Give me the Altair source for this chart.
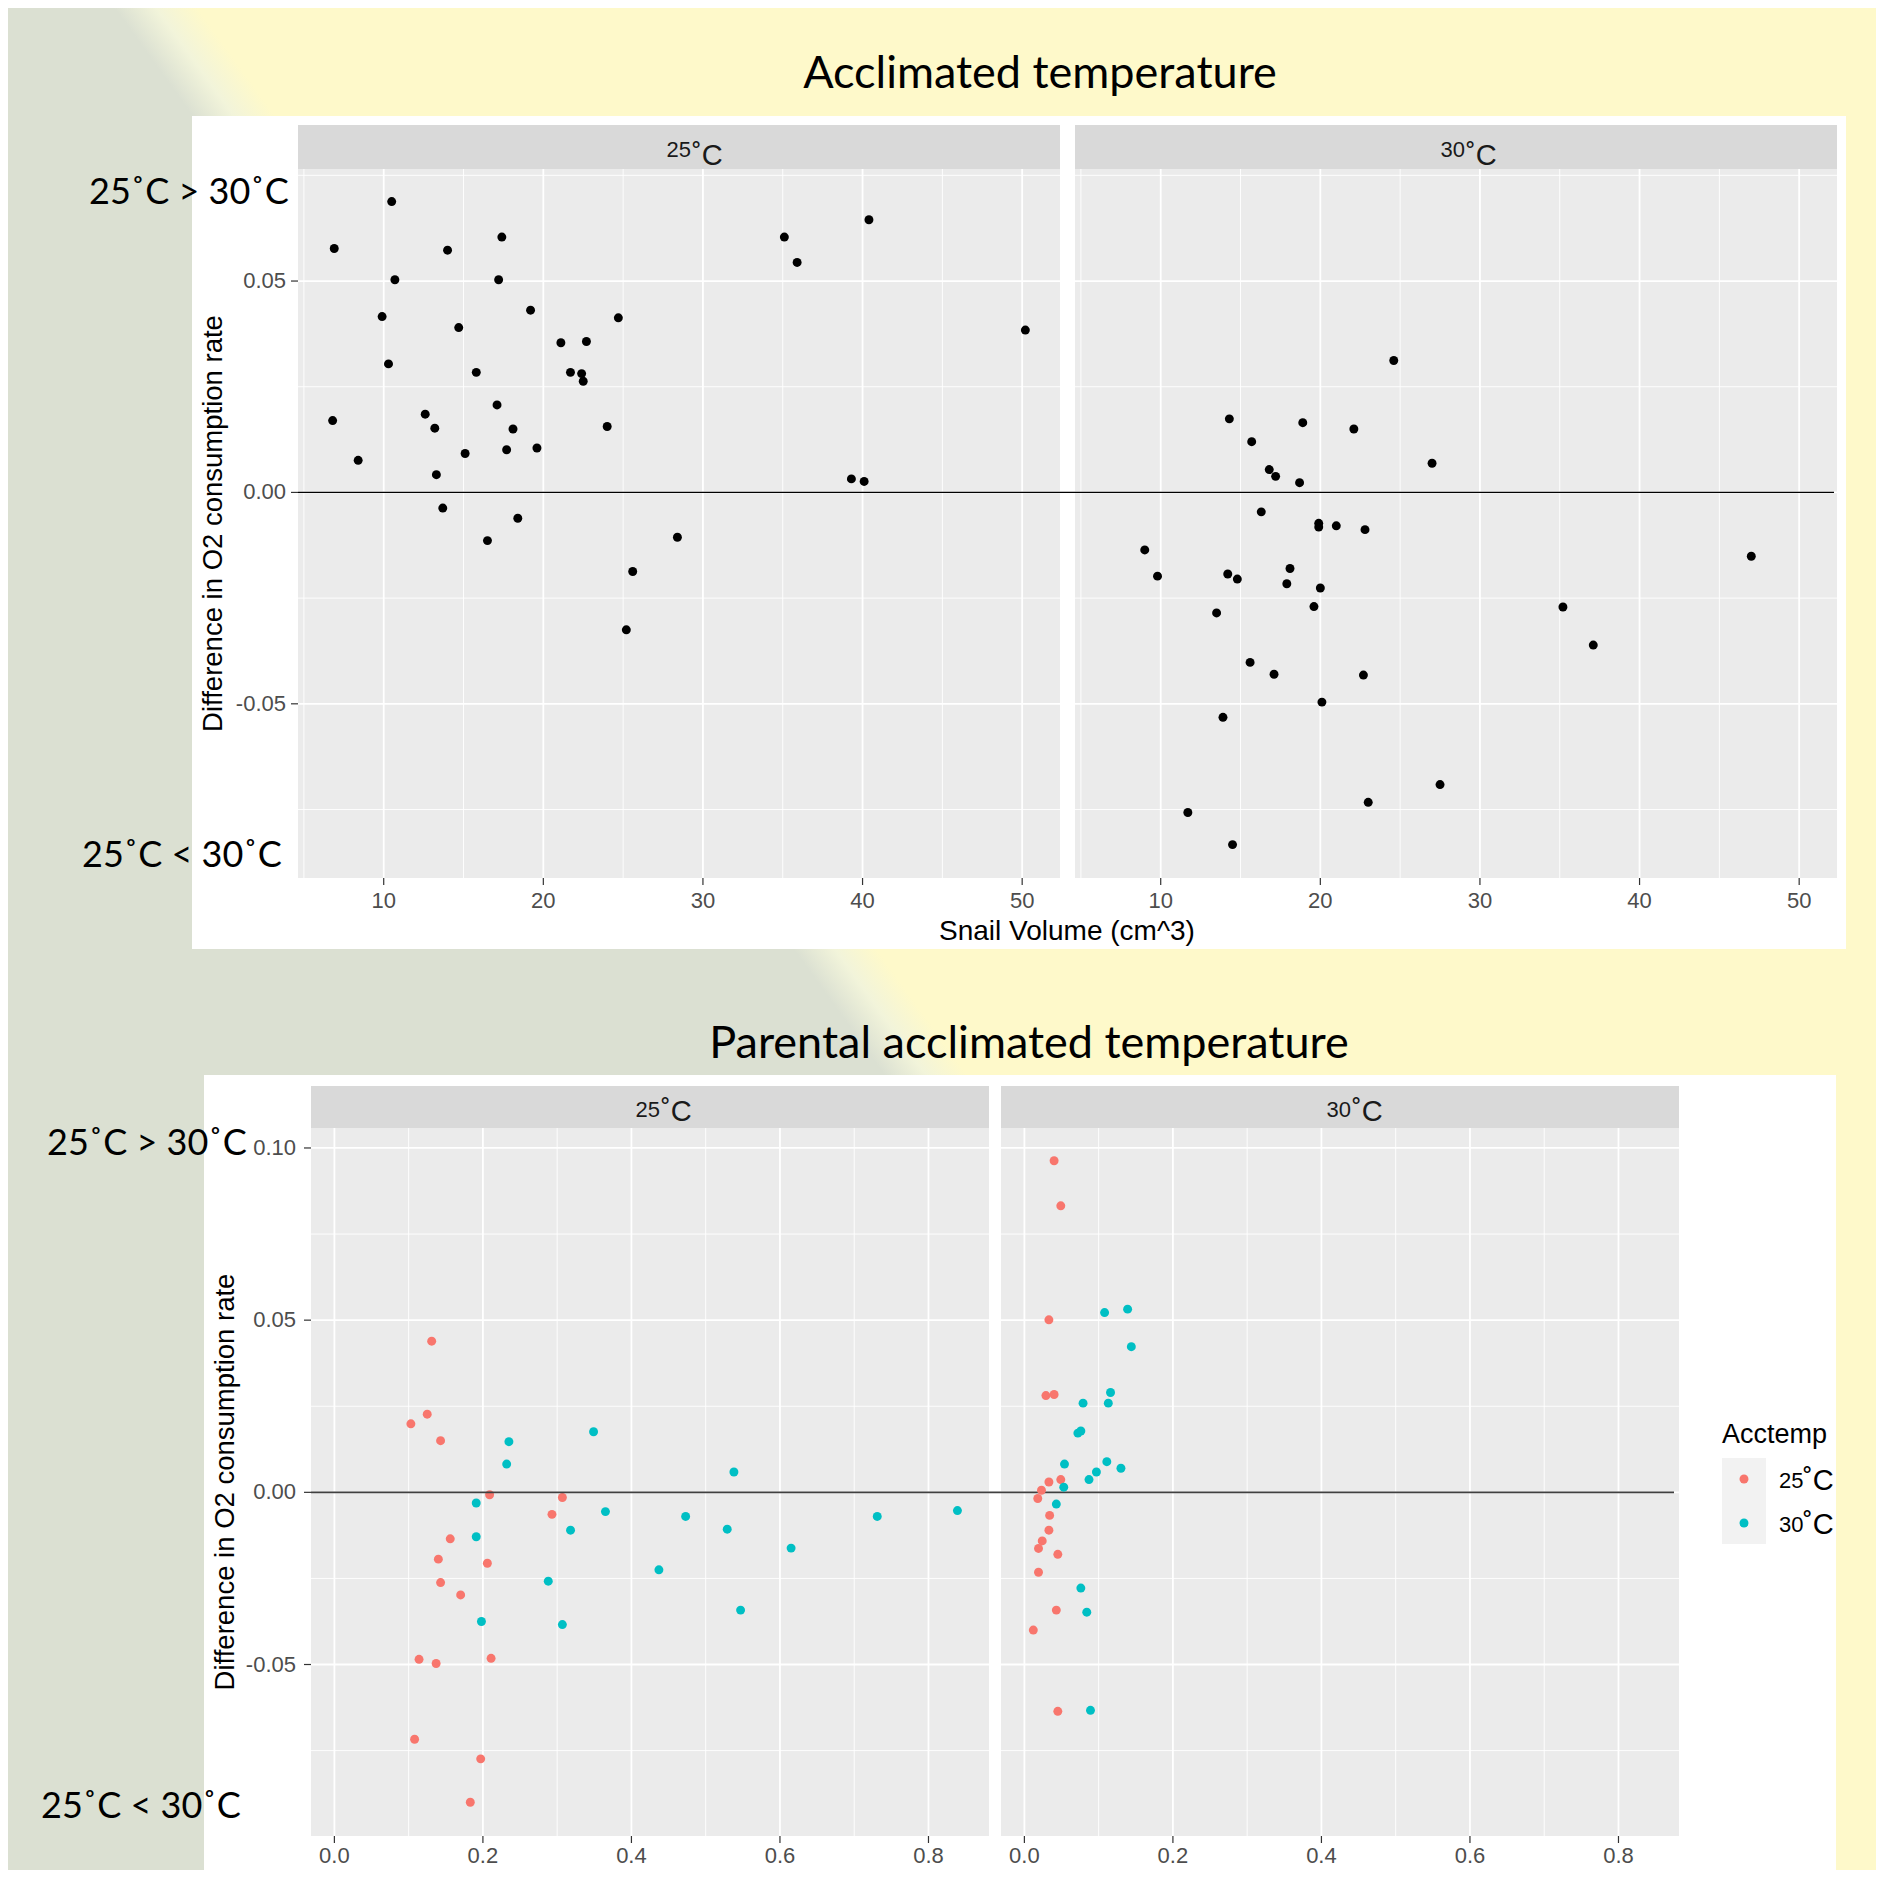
import altair as alt
import pandas as pd

# ---------------- data ----------------
# Top chart: Acclimated temperature facets (Snail volume vs difference in O2 consumption rate)
top25_vol = [6.9, 10.5, 6.8, 8.4, 9.9, 10.7, 10.3, 14.0, 14.7, 12.6, 13.2, 13.3, 13.7, 15.1, 15.8,
             17.2, 17.4, 17.1, 18.1, 17.7, 16.5, 18.4, 19.2, 19.6, 21.1, 21.7, 22.4, 22.5, 22.7,
             24.0, 24.7, 25.6, 25.2, 28.4, 35.1, 35.9, 40.4, 39.3, 40.1, 50.2]
top25_diff = [0.0577, 0.0688, 0.0170, 0.0076, 0.0416, 0.0503, 0.0304, 0.0573, 0.0390, 0.0185,
              0.0152, 0.0042, -0.0037, 0.0092, 0.0284, 0.0503, 0.0604, 0.0207, 0.0150, 0.0101,
              -0.0114, -0.0061, 0.0431, 0.0105, 0.0354, 0.0284, 0.0281, 0.0263, 0.0357, 0.0156,
              0.0413, -0.0187, -0.0325, -0.0106, 0.0604, 0.0544, 0.0645, 0.0032, 0.0026, 0.0384]
top30_vol = [24.6, 14.3, 18.9, 22.1, 15.7, 27.0, 16.8, 17.2, 18.7, 16.3, 19.9, 19.9, 21.0, 22.8,
             9.0, 9.8, 14.2, 14.8, 18.1, 17.9, 20.0, 19.6, 13.5, 15.6, 17.1, 22.7, 20.1, 13.9,
             35.2, 37.1, 47.0, 27.5, 23.0, 11.7, 14.5]
top30_diff = [0.0312, 0.0174, 0.0165, 0.0150, 0.0120, 0.0069, 0.0054, 0.0038, 0.0023, -0.0046,
              -0.0073, -0.0082, -0.0079, -0.0088, -0.0136, -0.0198, -0.0193, -0.0205, -0.0180,
              -0.0216, -0.0226, -0.0270, -0.0285, -0.0402, -0.0430, -0.0432, -0.0496, -0.0532,
              -0.0271, -0.0361, -0.0151, -0.0691, -0.0733, -0.0757, -0.0833]

# Bottom chart: Parental acclimated temperature facets, coloured by Acctemp
bl25_vol = [0.131, 0.125, 0.103, 0.143, 0.209, 0.307, 0.293, 0.156, 0.140, 0.206, 0.143, 0.170,
            0.114, 0.137, 0.211, 0.108, 0.197, 0.183]
bl25_diff = [0.0439, 0.0227, 0.0199, 0.0150, -0.0007, -0.0015, -0.0064, -0.0135, -0.0194, -0.0206,
             -0.0262, -0.0298, -0.0485, -0.0497, -0.0482, -0.0717, -0.0774, -0.0900]
bl30_vol = [0.235, 0.232, 0.349, 0.538, 0.191, 0.365, 0.473, 0.318, 0.529, 0.191, 0.615, 0.437,
            0.288, 0.198, 0.307, 0.547, 0.731, 0.839]
bl30_diff = [0.0147, 0.0082, 0.0176, 0.0059, -0.0031, -0.0056, -0.0070, -0.0110, -0.0107, -0.0129,
             -0.0162, -0.0225, -0.0258, -0.0375, -0.0384, -0.0342, -0.0070, -0.0053]
br25_vol = [0.040, 0.049, 0.033, 0.029, 0.040, 0.049, 0.033, 0.023, 0.018, 0.034, 0.033, 0.024,
            0.019, 0.045, 0.019, 0.043, 0.012, 0.045]
br25_diff = [0.0963, 0.0832, 0.0501, 0.0281, 0.0284, 0.0037, 0.0030, 0.0006, -0.0018, -0.0067,
             -0.0110, -0.0141, -0.0163, -0.0180, -0.0232, -0.0342, -0.0400, -0.0636]
br30_vol = [0.108, 0.139, 0.144, 0.116, 0.079, 0.113, 0.076, 0.072, 0.054, 0.111, 0.130, 0.097,
            0.087, 0.053, 0.043, 0.076, 0.084, 0.089]
br30_diff = [0.0522, 0.0532, 0.0423, 0.0290, 0.0259, 0.0259, 0.0178, 0.0172, 0.0082, 0.0089,
             0.0070, 0.0059, 0.0037, 0.0015, -0.0034, -0.0278, -0.0348, -0.0633]

acctemp_levels = ["25˚C", "30˚C"]
acctemp_colors = ["#F8766D", "#00BFC4"]

top_x_ticks = [10, 20, 30, 40, 50]
top_x_labels = ["10", "20", "30", "40", "50"]
top_x_minor = [5, 15, 25, 35, 45]
top_y_ticks = [-0.05, 0.0, 0.05]
top_y_labels = ["-0.05", "0.00", "0.05"]
top_y_minor = [-0.075, -0.025, 0.025, 0.075]
bot_x_ticks = [0.0, 0.2, 0.4, 0.6, 0.8]
bot_x_labels = ["0.0", "0.2", "0.4", "0.6", "0.8"]
bot_x_minor = [0.1, 0.3, 0.5, 0.7]
bot_y_ticks = [-0.05, 0.0, 0.05, 0.10]
bot_y_labels = ["-0.05", "0.00", "0.05", "0.10"]
bot_y_minor = [-0.075, -0.025, 0.025, 0.075]
top_x_domain = [4.63, 52.37]
top_y_domain = [-0.0912, 0.0765]
bot_x_domain = [-0.0315, 0.8815]
bot_y_domain = [-0.0998, 0.1058]

# ---------------- styling ----------------
YELLOW = "#FEF9CA"
GREY = "#DBE0D2"
GG_FONT = "Liberation Sans"
SLIDE_FONT = "Lato"
TOP_W, TOP_H = 762, 709
BOT_W, BOT_H = 678, 708
PT_SIZE = 80
TICK_FS = 22

one = pd.DataFrame({"k": [0]})


def vrect(x, x2, y, y2, fill):
    return alt.Chart(one).mark_rect(fill=fill).encode(
        x=alt.value(x), x2=alt.value(x2), y=alt.value(y), y2=alt.value(y2))


def vtext(txt, x, y, size, font, color="black", align="left", baseline="alphabetic", angle=0):
    kw = dict(text=txt, fontSize=size, font=font, color=color, align=align, baseline=baseline)
    if angle:
        kw["angle"] = angle
    return alt.Chart(one).mark_text(**kw).encode(x=alt.value(x), y=alt.value(y))


def hline(ydom, x0, x1, color, width):
    ys = alt.Scale(domain=ydom, nice=False, zero=False)
    return alt.Chart(pd.DataFrame({"z": [0.0]})).mark_rule(color=color, strokeWidth=width).encode(
        y=alt.Y("z:Q", scale=ys, axis=None), x=alt.value(x0), x2=alt.value(x1))


def panel_layers(df, w, h, xdom, ydom, xt, xl, xm, yt, yl, ym, show_y, strip_h, colored, xlab_y, ylab_x):
    xs = alt.Scale(domain=xdom, nice=False, zero=False)
    ys = alt.Scale(domain=ydom, nice=False, zero=False)
    layers = [vrect(0, w, 0, h, "#EBEBEB"), vrect(0, w, -strip_h, 0, "#D9D9D9")]
    for vals, sw in ((xm, 0.9), (xt, 1.8)):
        layers.append(alt.Chart(pd.DataFrame({"v": vals})).mark_rule(color="white", strokeWidth=sw).encode(
            x=alt.X("v:Q", scale=xs, axis=None), y=alt.value(0), y2=alt.value(h)))
    for vals, sw in ((ym, 0.9), (yt, 1.8)):
        layers.append(alt.Chart(pd.DataFrame({"v": vals})).mark_rule(color="white", strokeWidth=sw).encode(
            y=alt.Y("v:Q", scale=ys, axis=None), x=alt.value(0), x2=alt.value(w)))
    # x axis ticks and labels
    xdf = pd.DataFrame({"v": xt, "t": xl})
    layers.append(alt.Chart(xdf).mark_rule(color="#333333", strokeWidth=1.2).encode(
        x=alt.X("v:Q", scale=xs, axis=None), y=alt.value(h), y2=alt.value(h + 7)))
    layers.append(alt.Chart(xdf).mark_text(font=GG_FONT, fontSize=TICK_FS, color="#4D4D4D",
                                           align="center", baseline="middle").encode(
        x=alt.X("v:Q", scale=xs, axis=None), y=alt.value(xlab_y), text="t:N"))
    if show_y:
        ydf = pd.DataFrame({"v": yt, "t": yl})
        layers.append(alt.Chart(ydf).mark_rule(color="#333333", strokeWidth=1.2).encode(
            y=alt.Y("v:Q", scale=ys, axis=None), x=alt.value(-7), x2=alt.value(0)))
        layers.append(alt.Chart(ydf).mark_text(font=GG_FONT, fontSize=TICK_FS, color="#4D4D4D",
                                               align="right", baseline="middle").encode(
            y=alt.Y("v:Q", scale=ys, axis=None), x=alt.value(ylab_x), text="t:N"))
    if colored:
        pts = alt.Chart(df).mark_circle(size=PT_SIZE, opacity=1).encode(
            x=alt.X("vol:Q", scale=xs, axis=None), y=alt.Y("diff:Q", scale=ys, axis=None),
            color=alt.Color("acctemp:N", scale=alt.Scale(domain=acctemp_levels, range=acctemp_colors),
                            legend=None))
    else:
        pts = alt.Chart(df).mark_circle(size=PT_SIZE, opacity=1, color="black").encode(
            x=alt.X("vol:Q", scale=xs, axis=None), y=alt.Y("diff:Q", scale=ys, axis=None))
    return layers, pts


def strip_label(num, right_x, num_base, c_base):
    return [vtext(num, right_x, num_base, 22, GG_FONT, color="#1A1A1A", align="right"),
            vtext("˚C", right_x + 1, c_base, 29, GG_FONT, color="#1A1A1A", align="left")]


# ---------------- data frames ----------------
df_tl = pd.DataFrame({"vol": top25_vol, "diff": top25_diff})
df_tr = pd.DataFrame({"vol": top30_vol, "diff": top30_diff})
df_bl = pd.DataFrame({"vol": bl25_vol + bl30_vol, "diff": bl25_diff + bl30_diff,
                      "acctemp": [acctemp_levels[0]] * len(bl25_vol) + [acctemp_levels[1]] * len(bl30_vol)})
df_br = pd.DataFrame({"vol": br25_vol + br30_vol, "diff": br25_diff + br30_diff,
                      "acctemp": [acctemp_levels[0]] * len(br25_vol) + [acctemp_levels[1]] * len(br30_vol)})

# ---------------- slide background (drawn in the first panel) ----------------
bg_gradient = alt.LinearGradient(
    gradient="linear", x1=-0.129, y1=0.567, x2=0.683, y2=-0.017,
    stops=[alt.GradientStop(color=GREY, offset=0), alt.GradientStop(color=GREY, offset=0.482),
           alt.GradientStop(color="#F2F4DA", offset=0.5), alt.GradientStop(color=YELLOW, offset=0.518),
           alt.GradientStop(color=YELLOW, offset=1)])

# canvas kept to 1868 x 1862 so that the page never has to shrink or scroll it
deco = [
    alt.Chart(one).mark_rect(fill=bg_gradient).encode(
        x=alt.value(-290), x2=alt.value(1578), y=alt.value(-161), y2=alt.value(1701)),
    vrect(-106, 1548, -53, 780, "white"),
    vrect(-94, 1538, 906, 1701, "white"),
    vtext("Acclimated temperature", 742, -95, 45, SLIDE_FONT, align="center", baseline="middle"),
    vtext("Parental acclimated temperature", 731, 875, 45, SLIDE_FONT, align="center", baseline="middle"),
    vtext("25˚C > 30˚C", -209, 35, 36, SLIDE_FONT),
    vtext("25˚C < 30˚C", -216, 698, 36, SLIDE_FONT),
    vtext("25˚C > 30˚C", -251, 986, 36, SLIDE_FONT),
    vtext("25˚C < 30˚C", -257, 1649, 36, SLIDE_FONT),
    vtext("Snail Volume (cm^3)", 769, 763, 28, GG_FONT, align="center", baseline="middle"),
]

# ---------------- panels ----------------
tl_layers, tl_pts = panel_layers(df_tl, TOP_W, TOP_H, top_x_domain, top_y_domain, top_x_ticks, top_x_labels,
                                 top_x_minor, top_y_ticks, top_y_labels, top_y_minor, True, 44, False,
                                 TOP_H + 23, -12)
tl = alt.layer(*deco, *tl_layers, *strip_label("25", 393, -12, -4), tl_pts,
               vtext("Difference in O2 consumption rate", -84, TOP_H / 2, 27.5, GG_FONT,
                     align="center", baseline="middle", angle=270)
               ).properties(width=TOP_W, height=TOP_H)

tr_layers, tr_pts = panel_layers(df_tr, TOP_W, TOP_H, top_x_domain, top_y_domain, top_x_ticks, top_x_labels,
                                 top_x_minor, top_y_ticks, top_y_labels, top_y_minor, False, 44, False,
                                 TOP_H + 23, -12)
tr = alt.layer(*tr_layers, *strip_label("30", 390, -12, -4),
               hline(top_y_domain, -777, 759, "black", 1.2), tr_pts
               ).properties(width=TOP_W, height=TOP_H)

bl_layers, bl_pts = panel_layers(df_bl, BOT_W, BOT_H, bot_x_domain, bot_y_domain, bot_x_ticks, bot_x_labels,
                                 bot_x_minor, bot_y_ticks, bot_y_labels, bot_y_minor, True, 42, True,
                                 BOT_H + 20, -15)
bl = alt.layer(*bl_layers, *strip_label("25", 349, -11, -7), bl_pts,
               vtext("Difference in O2 consumption rate", -85, BOT_H / 2, 27.5, GG_FONT,
                     align="center", baseline="middle", angle=270)
               ).properties(width=BOT_W, height=BOT_H)

br_layers, br_pts = panel_layers(df_br, BOT_W, BOT_H, bot_x_domain, bot_y_domain, bot_x_ticks, bot_x_labels,
                                 bot_x_minor, bot_y_ticks, bot_y_labels, bot_y_minor, False, 42, True,
                                 BOT_H + 20, -15)
legend_layers = [
    vrect(721, 765, 330, 416, "#F2F2F2"),
    vtext("Acctemp", 721, 315, 27, GG_FONT),
    alt.Chart(one).mark_circle(size=PT_SIZE, opacity=1, color=acctemp_colors[0]).encode(
        x=alt.value(743), y=alt.value(351)),
    alt.Chart(one).mark_circle(size=PT_SIZE, opacity=1, color=acctemp_colors[1]).encode(
        x=alt.value(743), y=alt.value(395)),
    vtext("25", 778, 360, 22, GG_FONT),
    vtext("˚C", 802, 362, 29, GG_FONT),
    vtext("30", 778, 404, 22, GG_FONT),
    vtext("˚C", 802, 406, 29, GG_FONT),
]
br = alt.layer(*br_layers, *strip_label("30", 350, -11, -7),
               hline(bot_y_domain, -690, 673, "#404040", 1.6), br_pts, *legend_layers
               ).properties(width=BOT_W, height=BOT_H)

spacer = alt.Chart(one).mark_point(opacity=0).encode(
    x=alt.value(0), y=alt.value(0)).properties(width=1, height=BOT_H)

top_row = alt.hconcat(tl, tr, spacing=15, bounds="flush")
bottom_row = alt.hconcat(spacer, bl, br, spacing=12, bounds="flush")

# nested flush rows count as zero height, so the row gap includes the top panel height
chart = alt.vconcat(top_row, bottom_row, spacing=TOP_H + 250, bounds="flush").properties(
    padding=0
).configure(background=YELLOW).configure_view(strokeOpacity=0)

chart.save("out.html", embed_options={"renderer": "svg", "actions": False})
